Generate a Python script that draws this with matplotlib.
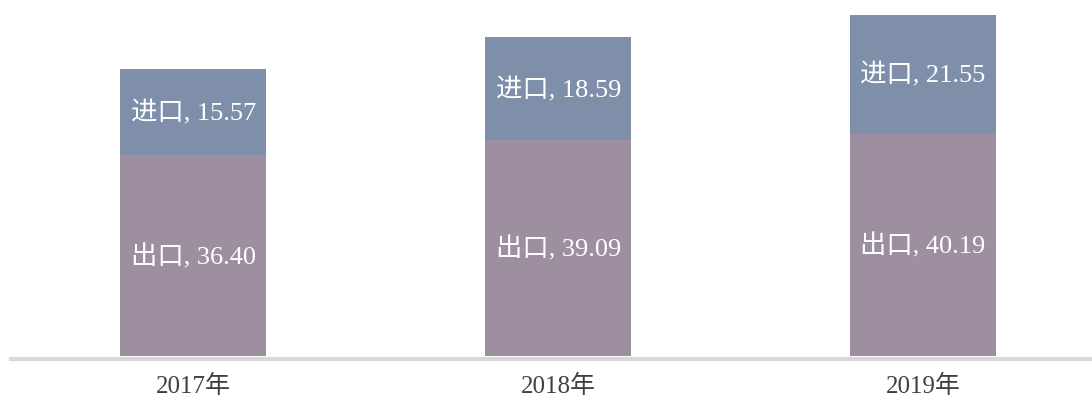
import matplotlib.pyplot as plt

# 数据
YEARS = ["2017年", "2018年", "2019年"]
EXPORT = [36.40, 39.09, 40.19]
IMPORT = [15.57, 18.59, 21.55]

EXPORT_COLOR = "#9D8FA0"
IMPORT_COLOR = "#7F8FA9"
AXIS_COLOR = "#D9D9D9"
TEXT_COLOR = "#404040"
FONTS = ["Liberation Serif", "Noto Sans CJK SC"]

plt.rcParams["font.family"] = FONTS

fig = plt.figure(figsize=(10.92, 4.06), dpi=100)
ax = fig.add_axes([11 / 1092, 49 / 406, 1 - 11 / 1092, 357 / 406])

x = list(range(len(YEARS)))
bar_w = 0.4
ax.bar(x, EXPORT, width=bar_w, color=EXPORT_COLOR, zorder=3)
ax.bar(x, IMPORT, width=bar_w, bottom=EXPORT, color=IMPORT_COLOR, zorder=3)

for i in x:
    ax.text(i, EXPORT[i] / 2, f"出口, {EXPORT[i]:.2f}", ha="center", va="center",
            color="white", fontsize=19, weight="light", zorder=4)
    ax.text(i, EXPORT[i] + IMPORT[i] / 2, f"进口, {IMPORT[i]:.2f}", ha="center",
            va="center", color="white", fontsize=19, weight="light", zorder=4)

ax.set_xlim(-0.5, (1092 - 193) / 365)
ax.set_ylim(0, 357 / 5.53)

ax.set_xticks(x, YEARS)
ax.tick_params(axis="x", length=0, pad=11, labelsize=18, labelcolor=TEXT_COLOR)
ax.set_yticks([])

for s in ["top", "right", "left"]:
    ax.spines[s].set_visible(False)
ax.spines["bottom"].set_color(AXIS_COLOR)
ax.spines["bottom"].set_linewidth(3)
ax.spines["bottom"].set_position(("outward", 2))

fig.savefig("out.png", dpi=100)
